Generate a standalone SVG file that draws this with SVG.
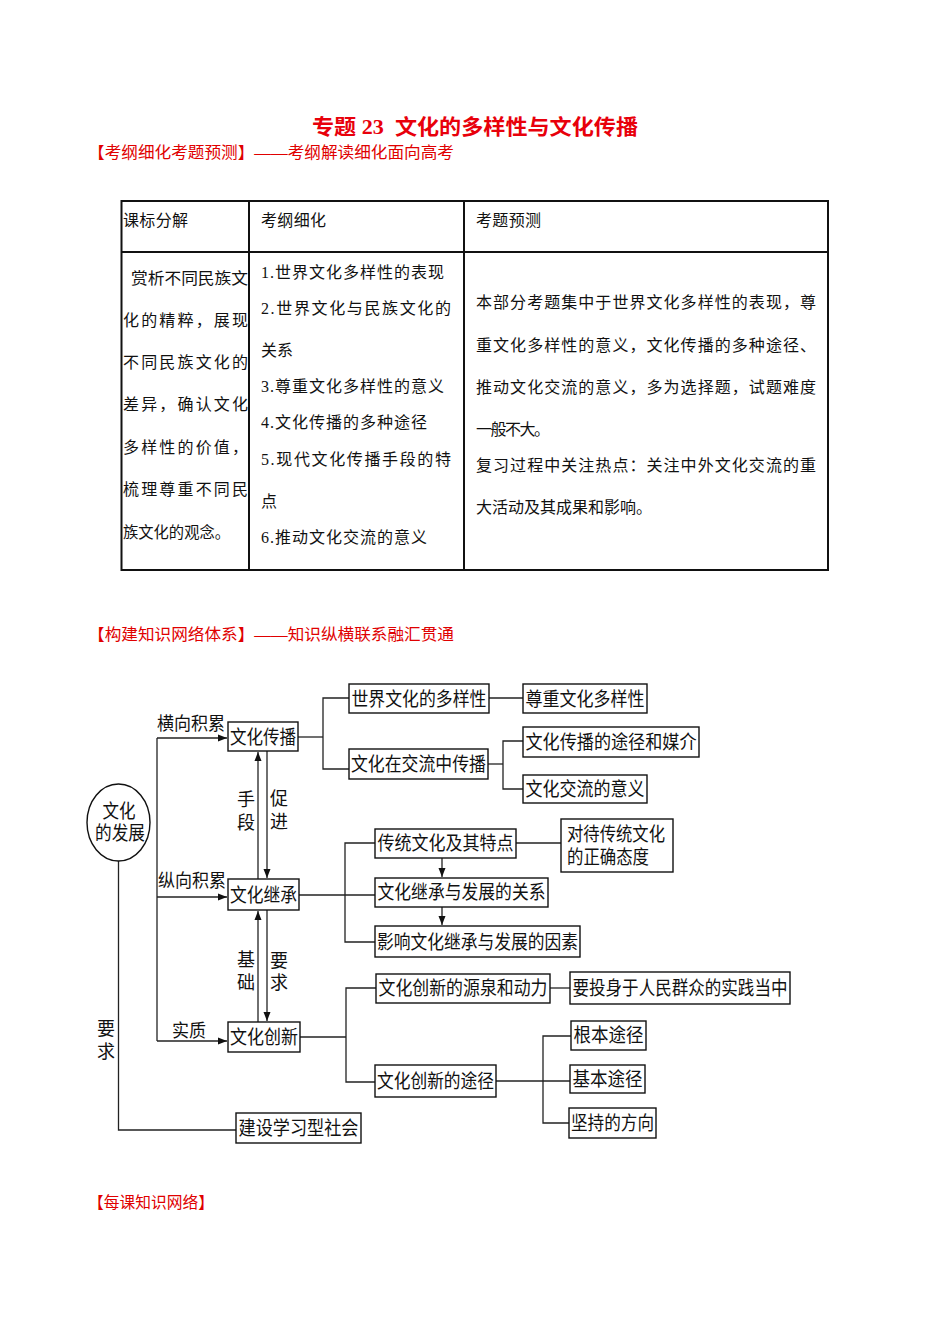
<svg xmlns="http://www.w3.org/2000/svg" width="950" height="1344" viewBox="0 0 950 1344">
<style>
text{font-family:"Liberation Serif","Noto Sans CJK SC",serif;fill:#111;}
.red{fill:#e00000;}
.title{font-size:21px;font-weight:bold;fill:#e8000b;}
.sub{font-size:16px;}
.tb{font-size:16px;}
.tl{stroke:#111;stroke-width:2;fill:none;}
.box{fill:#fff;stroke:#111;stroke-width:1.4;}
.bt{font-size:19px;text-anchor:middle;dominant-baseline:central;}
.lb{font-size:18px;dominant-baseline:central;}
.vl{font-size:18px;text-anchor:middle;dominant-baseline:central;}
.ln{stroke:#222;stroke-width:1.3;fill:none;}
</style>
<defs>
<marker id="ah" markerUnits="userSpaceOnUse" markerWidth="9" markerHeight="8" refX="9" refY="4" orient="auto">
<path d="M0,0.5 L9,4 L0,7.5 z" fill="#111"/>
</marker>
</defs>
<rect width="950" height="1344" fill="#fff"/>

<!-- Header texts -->
<g id="title">
<text class="title" x="475" y="134" text-anchor="middle" textLength="326" lengthAdjust="spacingAndGlyphs">专题 23&#160; 文化的多样性与文化传播</text>
</g>
<g id="subtitle1">
<text class="red sub" x="88" y="158" textLength="366" lengthAdjust="spacingAndGlyphs">【考纲细化考题预测】——考纲解读细化面向高考</text>
</g>

<!-- Table -->
<g id="table">
<rect class="tl" x="121.5" y="201" width="706.5" height="369"/>
<line class="tl" x1="249" y1="201" x2="249" y2="570"/>
<line class="tl" x1="464" y1="201" x2="464" y2="570"/>
<line class="tl" x1="121.5" y1="252" x2="828" y2="252"/>
<text class="tb" x="123" y="226" textLength="65">课标分解</text>
<text class="tb" x="261" y="226" textLength="65">考纲细化</text>
<text class="tb" x="476" y="226" textLength="65">考题预测</text>

<text class="tb" x="131" y="284" textLength="117" lengthAdjust="spacingAndGlyphs">赏析不同民族文</text>
<text class="tb" x="123" y="326" textLength="125" lengthAdjust="spacing">化的精粹，展现</text>
<text class="tb" x="123" y="368" textLength="125" lengthAdjust="spacing">不同民族文化的</text>
<text class="tb" x="123" y="410" textLength="125" lengthAdjust="spacing">差异，确认文化</text>
<text class="tb" x="123" y="453" textLength="125" lengthAdjust="spacing">多样性的价值，</text>
<text class="tb" x="123" y="495" textLength="125" lengthAdjust="spacing">梳理尊重不同民</text>
<text class="tb" x="123" y="538" textLength="107" lengthAdjust="spacingAndGlyphs">族文化的观念。</text>

<text class="tb" x="261" y="278" textLength="183" lengthAdjust="spacing">1.世界文化多样性的表现</text>
<text class="tb" x="261" y="314" textLength="190" lengthAdjust="spacing">2.世界文化与民族文化的</text>
<text class="tb" x="261" y="356" textLength="32">关系</text>
<text class="tb" x="261" y="392" textLength="183" lengthAdjust="spacing">3.尊重文化多样性的意义</text>
<text class="tb" x="261" y="428" textLength="166" lengthAdjust="spacing">4.文化传播的多种途径</text>
<text class="tb" x="261" y="465" textLength="190" lengthAdjust="spacing">5.现代文化传播手段的特</text>
<text class="tb" x="261" y="507">点</text>
<text class="tb" x="261" y="543" textLength="166" lengthAdjust="spacing">6.推动文化交流的意义</text>

<text class="tb" x="476" y="308" textLength="340" lengthAdjust="spacing">本部分考题集中于世界文化多样性的表现，尊</text>
<text class="tb" x="476" y="351" textLength="340" lengthAdjust="spacing">重文化多样性的意义，文化传播的多种途径、</text>
<text class="tb" x="476" y="393" textLength="340" lengthAdjust="spacing">推动文化交流的意义，多为选择题，试题难度</text>
<text class="tb" x="476" y="435" textLength="74">一般不大。</text>
<text class="tb" x="476" y="471" textLength="340" lengthAdjust="spacing">复习过程中关注热点：关注中外文化交流的重</text>
<text class="tb" x="476" y="513" textLength="176">大活动及其成果和影响。</text>
</g>

<g id="subtitle2">
<text class="red sub" x="88" y="640" textLength="366" lengthAdjust="spacingAndGlyphs">【构建知识网络体系】——知识纵横联系融汇贯通</text>
</g>

<!-- Connectors -->
<g id="connectors">
<path class="ln" d="M118.5 861 V1130 H236"/>
<path class="ln" d="M157 738 V1041"/>
<line class="ln" x1="157" y1="738" x2="227" y2="738" marker-end="url(#ah)"/>
<line class="ln" x1="157" y1="897" x2="227" y2="897" marker-end="url(#ah)"/>
<line class="ln" x1="157" y1="1041" x2="227" y2="1041" marker-end="url(#ah)"/>
<line class="ln" x1="258" y1="879" x2="258" y2="752" marker-end="url(#ah)"/>
<line class="ln" x1="267" y1="751" x2="267" y2="878" marker-end="url(#ah)"/>
<line class="ln" x1="258" y1="1022" x2="258" y2="911" marker-end="url(#ah)"/>
<line class="ln" x1="267" y1="910" x2="267" y2="1021" marker-end="url(#ah)"/>
<path class="ln" d="M298 737 H323"/>
<path class="ln" d="M349 698 H323 V769 H349"/>
<path class="ln" d="M489 698 H523"/>
<path class="ln" d="M488 764 H503"/>
<path class="ln" d="M523 741 H503 V789 H523"/>
<path class="ln" d="M299 895 H375"/>
<path class="ln" d="M375 843 H345 V942 H375"/>
<path class="ln" d="M516 843 H561"/>
<line class="ln" x1="442" y1="858" x2="442" y2="877" marker-end="url(#ah)"/>
<line class="ln" x1="442" y1="907" x2="442" y2="925" marker-end="url(#ah)"/>
<path class="ln" d="M300 1037 H346"/>
<path class="ln" d="M376 988 H346 V1082 H375"/>
<path class="ln" d="M550 988 H570"/>
<path class="ln" d="M496 1081 H570"/>
<path class="ln" d="M571 1036 H543 V1123 H569"/>
</g>

<!-- Edge labels -->
<g id="labels">
<text class="lb" x="157" y="724" textLength="68" lengthAdjust="spacingAndGlyphs">横向积累</text>
<text class="lb" x="158" y="881" textLength="68" lengthAdjust="spacingAndGlyphs">纵向积累</text>
<text class="lb" x="172" y="1031" textLength="34" lengthAdjust="spacingAndGlyphs">实质</text>
<text class="vl" x="246" y="800">手</text>
<text class="vl" x="246" y="823">段</text>
<text class="vl" x="279" y="799">促</text>
<text class="vl" x="279" y="822">进</text>
<text class="vl" x="246" y="960">基</text>
<text class="vl" x="246" y="983">础</text>
<text class="vl" x="279" y="961">要</text>
<text class="vl" x="279" y="983">求</text>
<text class="vl" x="106" y="1029">要</text>
<text class="vl" x="106" y="1052">求</text>
</g>

<!-- Nodes -->
<g id="n-root">
<ellipse cx="118.5" cy="822.5" rx="31.5" ry="38.5" fill="#fff" stroke="#111" stroke-width="1.4"/>
<text class="bt" x="119" y="811" textLength="33" lengthAdjust="spacingAndGlyphs">文化</text>
<text class="bt" x="120" y="833" textLength="50" lengthAdjust="spacingAndGlyphs">的发展</text>
</g>
<g id="n-chuanbo">
<rect class="box" x="228" y="722" width="70" height="29"/>
<text class="bt" x="263" y="737" textLength="66" lengthAdjust="spacingAndGlyphs">文化传播</text>
</g>
<g id="n-jicheng">
<rect class="box" x="228" y="879" width="71" height="31"/>
<text class="bt" x="263.5" y="895" textLength="67" lengthAdjust="spacingAndGlyphs">文化继承</text>
</g>
<g id="n-chuangxin">
<rect class="box" x="228" y="1022" width="72" height="30"/>
<text class="bt" x="264" y="1037" textLength="68" lengthAdjust="spacingAndGlyphs">文化创新</text>
</g>
<g id="n-duoyang">
<rect class="box" x="349" y="684" width="140" height="29"/>
<text class="bt" x="419" y="699" textLength="135" lengthAdjust="spacingAndGlyphs">世界文化的多样性</text>
</g>
<g id="n-zunzhong">
<rect class="box" x="523" y="684" width="124" height="29"/>
<text class="bt" x="585" y="699" textLength="119" lengthAdjust="spacingAndGlyphs">尊重文化多样性</text>
</g>
<g id="n-jiaoliu">
<rect class="box" x="349" y="749" width="139" height="30"/>
<text class="bt" x="418.5" y="764" textLength="135" lengthAdjust="spacingAndGlyphs">文化在交流中传播</text>
</g>
<g id="n-tujing-meijie">
<rect class="box" x="523" y="727" width="176" height="30"/>
<text class="bt" x="611" y="742" textLength="171" lengthAdjust="spacingAndGlyphs">文化传播的途径和媒介</text>
</g>
<g id="n-jiaoliu-yiyi">
<rect class="box" x="523" y="775" width="124" height="28"/>
<text class="bt" x="585" y="789" textLength="119" lengthAdjust="spacingAndGlyphs">文化交流的意义</text>
</g>
<g id="n-chuantong">
<rect class="box" x="375" y="829" width="141" height="29"/>
<text class="bt" x="445.5" y="843.5" textLength="136" lengthAdjust="spacingAndGlyphs">传统文化及其特点</text>
</g>
<g id="n-taidu">
<rect class="box" x="561" y="819" width="112" height="53"/>
<text class="lb" style="font-size:19px" x="567" y="834" textLength="98" lengthAdjust="spacingAndGlyphs">对待传统文化</text>
<text class="lb" style="font-size:19px" x="567" y="857" textLength="82" lengthAdjust="spacingAndGlyphs">的正确态度</text>
</g>
<g id="n-guanxi">
<rect class="box" x="375" y="878" width="173" height="29"/>
<text class="bt" x="461.5" y="892.5" textLength="168" lengthAdjust="spacingAndGlyphs">文化继承与发展的关系</text>
</g>
<g id="n-yinsu">
<rect class="box" x="375" y="926" width="205" height="31"/>
<text class="bt" x="477.5" y="942" textLength="201" lengthAdjust="spacingAndGlyphs">影响文化继承与发展的因素</text>
</g>
<g id="n-yuanquan">
<rect class="box" x="376" y="974" width="174" height="29"/>
<text class="bt" x="463" y="988.5" textLength="169" lengthAdjust="spacingAndGlyphs">文化创新的源泉和动力</text>
</g>
<g id="n-shijian">
<rect class="box" x="570" y="972" width="220" height="32"/>
<text class="bt" x="680" y="988" textLength="215" lengthAdjust="spacingAndGlyphs">要投身于人民群众的实践当中</text>
</g>
<g id="n-cx-tujing">
<rect class="box" x="375" y="1065" width="121" height="32"/>
<text class="bt" x="435.5" y="1081" textLength="117" lengthAdjust="spacingAndGlyphs">文化创新的途径</text>
</g>
<g id="n-genben">
<rect class="box" x="571" y="1021" width="75" height="29"/>
<text class="bt" x="608.5" y="1035.5" textLength="70" lengthAdjust="spacingAndGlyphs">根本途径</text>
</g>
<g id="n-jiben">
<rect class="box" x="570" y="1065" width="75" height="28"/>
<text class="bt" x="607.5" y="1079" textLength="70" lengthAdjust="spacingAndGlyphs">基本途径</text>
</g>
<g id="n-fangxiang">
<rect class="box" x="569" y="1108" width="87" height="30"/>
<text class="bt" x="612.5" y="1123" textLength="83" lengthAdjust="spacingAndGlyphs">坚持的方向</text>
</g>
<g id="n-xuexi">
<rect class="box" x="236" y="1113" width="125" height="30"/>
<text class="bt" x="298.5" y="1128" textLength="120" lengthAdjust="spacingAndGlyphs">建设学习型社会</text>
</g>

<g id="subtitle3">
<text class="red sub" x="88" y="1208" textLength="126" lengthAdjust="spacingAndGlyphs">【每课知识网络】</text>
</g>
</svg>
